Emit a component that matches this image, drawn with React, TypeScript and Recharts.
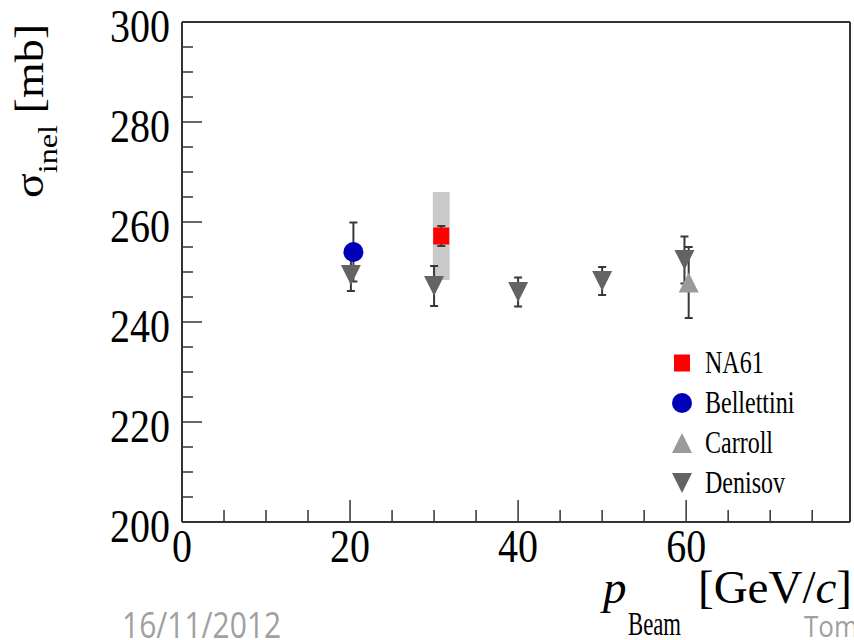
import {
  ComposedChart,
  ErrorBar,
  Legend,
  ReferenceArea,
  ReferenceLine,
  Scatter,
  XAxis,
  YAxis,
} from 'recharts';

// axis ticks
const xTicks = [0, 5, 10, 15, 20, 25, 30, 35, 40, 45, 50, 55, 60, 65, 70, 75];
const xLabels = [0, 20, 40, 60];
const yTicks = [
  200, 205, 210, 215, 220, 225, 230, 235, 240, 245, 250, 255, 260, 265, 270, 275, 280, 285, 290, 295, 300,
];
const yLabels = [200, 220, 240, 260, 280, 300];
const xMax = 79.5;

// measurements: p [GeV/c], sigma [mb], stat. error [mb]
const na61 = [{ p: 30.85, sigma: 257.2, err: 2.0 }];
const na61Sys = [{ pLow: 29.85, pHigh: 31.85, low: 248.4, high: 266.0 }];
const bellettini = [{ p: 20.4, sigma: 254.0, err: 5.9 }];
const carroll = [{ p: 60.3, sigma: 247.9, err: 7.1 }];
const denisov = [
  { p: 20.1, sigma: 249.4, err: 3.2 },
  { p: 30.0, sigma: 247.2, err: 4.0 },
  { p: 40.0, sigma: 246.0, err: 2.9 },
  { p: 50.0, sigma: 248.2, err: 2.8 },
  { p: 59.8, sigma: 252.4, err: 4.7 },
];

const seriesNames = ['NA61', 'Bellettini', 'Carroll', 'Denisov'];
const seriesColors = ['#ff0000', '#0000b8', '#9a9a9a', '#636363'];
const seriesShapes = ['square', 'circle', 'up', 'down'];

const serif = '"Liberation Serif", "DejaVu Serif", serif';
const axisColor = '#333333';
const errColor = '#383838';

function Marker({ kind, cx, cy, color }: { kind: string; cx: number; cy: number; color: string }) {
  if (kind === 'square') return <rect x={cx - 8} y={cy - 8.5} width={16} height={17} fill={color} />;
  if (kind === 'circle') return <circle cx={cx} cy={cy} r={10} fill={color} />;
  if (kind === 'up')
    return <polygon points={`${cx - 10},${cy + 10} ${cx + 10},${cy + 10} ${cx},${cy - 10}`} fill={color} />;
  return <polygon points={`${cx - 10},${cy - 10} ${cx + 10},${cy - 10} ${cx},${cy + 10}`} fill={color} />;
}

const shapeFor = (i: number) => (props: any) =>
  <Marker kind={seriesShapes[i]} cx={props.cx} cy={props.cy} color={seriesColors[i]} />;

const renderYTick = (props: any) => {
  const { x, y, payload } = props;
  const major = yLabels.includes(payload.value);
  return (
    <g>
      <line x1={x} x2={x + (major ? 20 : 11)} y1={y} y2={y} stroke={axisColor} strokeWidth={1.5} />
      {major && (
        <text
          transform={`translate(${x - 12},${y + 20}) scale(1,1.18)`}
          textAnchor="end"
          fontFamily={serif}
          fontSize={40}
          fill="#000"
        >
          {payload.value}
        </text>
      )}
    </g>
  );
};

const renderXTick = (props: any) => {
  const { x, y, payload } = props;
  const major = xLabels.includes(payload.value);
  return (
    <g>
      <line x1={x} x2={x} y1={y} y2={y - (major ? 22 : 12)} stroke={axisColor} strokeWidth={1.5} />
      {major && (
        <text
          transform={`translate(${x},${y + 40}) scale(1,1.18)`}
          textAnchor="middle"
          fontFamily={serif}
          fontSize={40}
          fill="#000"
        >
          {payload.value}
        </text>
      )}
    </g>
  );
};

const renderYTitle = (props: any) => {
  const vb = props.viewBox;
  const bx = vb.x - 79;
  const by = vb.y + 176;
  return (
    <text
      transform={`translate(${bx},${by}) scale(1,1.15) rotate(-90)`}
      fontFamily={serif}
      fontSize={40}
      fill="#000"
    >
      σ
      <tspan dy={14} fontSize={28}>
        inel
      </tspan>
      <tspan dy={-14}> [mb]</tspan>
    </text>
  );
};

const renderXTitle = (props: any) => {
  const vb = props.viewBox;
  const right = vb.x + vb.width;
  const base = vb.y + 81;
  return (
    <g fontFamily={serif} fill="#000">
      <text x={right - 247} y={base} fontSize={47} fontStyle="italic">
        p
      </text>
      <text
        transform={`translate(${right - 222},${base + 32}) scale(1,1.3)`}
        fontSize={26}
        textLength={53}
        lengthAdjust="spacingAndGlyphs"
      >
        Beam
      </text>
      <text x={right + 2} y={base} fontSize={47} textAnchor="end">
        [GeV/<tspan fontStyle="italic">c</tspan>]
      </text>
      <text
        transform={`translate(${vb.x - 60},${vb.y + 116}) scale(1,1.22)`}
        fontFamily='"Open Sans", "Liberation Sans", sans-serif'
        fontSize={30}
        fill="#a0a0a0"
      >
        16/11/2012
      </text>
      <text
        transform={`translate(${right - 46},${vb.y + 115}) scale(1,1.12)`}
        fontFamily='"Open Sans", "Liberation Sans", sans-serif'
        fontSize={26}
        fill="#a0a0a0"
      >
        Tom
      </text>
    </g>
  );
};

const renderLegend = () => (
  <svg width={170} height={160}>
    {seriesNames.map((name, i) => {
      const cy = 20 + i * 40;
      return (
        <g key={name}>
          <Marker kind={seriesShapes[i]} cx={14} cy={cy} color={seriesColors[i]} />
          <text
            transform={`translate(37,${cy + 10}) scale(1,1.3)`}
            fontFamily={serif}
            fontSize={24}
            fill="#000"
          >
            {name}
          </text>
        </g>
      );
    })}
  </svg>
);

export default function App() {
  return (
    <div style={{ position: 'absolute', left: 0, top: 0, width: 854, height: 640, background: '#fff' }}>
      <ComposedChart width={854} height={640} margin={{ top: 22, right: 4, left: 122, bottom: 88 }}>
        <XAxis
          type="number"
          dataKey="p"
          domain={[0, xMax]}
          ticks={xTicks}
          allowDataOverflow
          height={30}
          tickSize={0}
          tickMargin={0}
          tick={renderXTick}
          axisLine={{ stroke: axisColor, strokeWidth: 2 }}
          label={renderXTitle}
        />
        <YAxis
          type="number"
          dataKey="sigma"
          domain={[200, 300]}
          ticks={yTicks}
          allowDataOverflow
          width={60}
          tickSize={0}
          tickMargin={0}
          tick={renderYTick}
          axisLine={{ stroke: axisColor, strokeWidth: 2 }}
          label={renderYTitle}
        />
        <ReferenceLine y={300} stroke={axisColor} strokeWidth={2} />
        <ReferenceLine x={xMax} stroke={axisColor} strokeWidth={2} />
        {na61Sys.map((s, i) => (
          <ReferenceArea
            key={i}
            x1={s.pLow}
            x2={s.pHigh}
            y1={s.low}
            y2={s.high}
            fill="#c9c9c9"
            fillOpacity={1}
            stroke="none"
          />
        ))}
        <Scatter name="Denisov" data={denisov} shape={shapeFor(3)} isAnimationActive={false}>
          <ErrorBar dataKey="err" direction="y" width={4} stroke={errColor} strokeWidth={2} />
        </Scatter>
        <Scatter name="Carroll" data={carroll} shape={shapeFor(2)} isAnimationActive={false}>
          <ErrorBar dataKey="err" direction="y" width={4} stroke={errColor} strokeWidth={2} />
        </Scatter>
        <Scatter name="Bellettini" data={bellettini} shape={shapeFor(1)} isAnimationActive={false}>
          <ErrorBar dataKey="err" direction="y" width={4} stroke={errColor} strokeWidth={2} />
        </Scatter>
        <Scatter name="NA61" data={na61} shape={shapeFor(0)} isAnimationActive={false}>
          <ErrorBar dataKey="err" direction="y" width={4} stroke={errColor} strokeWidth={2} />
        </Scatter>
        <Legend
          layout="vertical"
          align="center"
          verticalAlign="middle"
          wrapperStyle={{ left: 668, top: 343, width: 170, height: 160 }}
          content={renderLegend}
        />
      </ComposedChart>
    </div>
  );
}
